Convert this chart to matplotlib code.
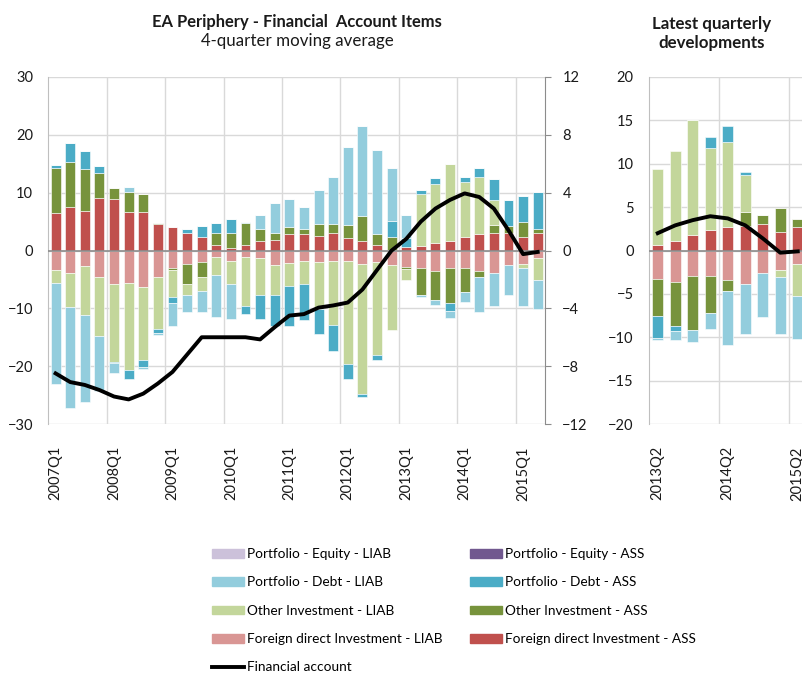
import numpy as np
import matplotlib
matplotlib.use("Agg")
import matplotlib.pyplot as plt
from matplotlib.patches import Patch
from matplotlib.lines import Line2D

plt.rcParams['font.family'] = ['Lato', 'DejaVu Sans']

# 4-quarter moving average, 2007Q1 - 2015Q2
quarters = [f"{y}Q{q}" for y in range(2007, 2016) for q in range(1, 5)][:34]

fdi_ass = [6.4, 7.5, 6.85, 9.15, 8.9, 6.6, 6.6, 4.5, 4.0, 3.1, 2.35, 1.0, 0.45, 1.0, 1.65, 1.9, 2.9,
           2.9, 2.55, 3.05, 2.2, 1.65, 1.0, 0.1, 0.55, 0.75, 1.3, 1.6, 2.35, 2.9, 3.05, 3.05, 2.35, 2.95]
fdi_liab = [-3.3, -3.9, -2.7, -4.65, -5.8, -5.6, -6.3, -4.65, -3.0, -2.25, -2.0, -1.1, -1.85, -1.1, -1.3, -2.5, -2.2,
            -1.85, -2.05, -1.85, -1.85, -2.25, -2.0, -2.55, -2.8, -3.0, -3.5, -3.0, -3.0, -3.5, -3.9, -2.5, -2.25, -1.3]
oi_ass = [7.9, 7.8, 7.25, 4.25, 1.9, 3.5, 3.1, 0.2, -0.3, -3.55, -2.6, 2.05, 2.6, 3.7, 2.1, 1.15, 1.1,
          0.85, 2.1, 1.6, 2.25, 4.25, 1.9, 2.25, -0.4, -4.7, -5.1, -6.15, -4.2, -1.1, 1.35, 1.15, 2.6, 0.75]
oi_liab = [-2.3, -5.9, -8.5, -10.1, -13.4, -15.1, -12.6, -8.9, -4.7, -1.9, -2.4, -3.05, -3.95, -8.5, -6.4, -5.2, -3.9,
           -4.0, -8.15, -11.05, -17.85, -22.55, -16.1, -11.25, -1.9, 8.95, 10.25, 13.4, 9.45, 9.8, 4.3, 0.0, -0.75, -3.85]
pd_ass = [0.55, 3.3, 3.1, 1.15, -0.3, -1.55, -1.2, -0.8, -1.15, 0.7, 1.95, 1.65, 2.35, -1.3, -4.15, -5.3, -6.9,
          -6.1, -4.3, -4.4, -2.5, -0.5, -0.85, 2.7, 1.6, 0.7, 0.9, -1.35, 0.9, 1.6, 3.6, 4.5, 4.5, 6.45]
pd_liab = [-17.5, -17.5, -15.0, -9.6, -1.7, 0.9, -0.45, -0.2, -3.85, -3.0, -3.7, -7.3, -6.05, 0.3, 2.35, 5.15, 4.9,
           3.8, 5.75, 8.05, 13.4, 15.7, 14.5, 9.25, 4.0, -0.3, -0.9, -1.1, -1.65, -6.1, -5.65, -5.15, -6.55, -4.9]
pe_ass = [0.0] * 34
pe_liab = [0.0] * 34
# financial account, right axis
fin_acc = [-8.5, -9.1, -9.3, -9.65, -10.1, -10.3, -9.9, -9.2, -8.4, -7.2, -6.0, -6.0, -6.0, -6.0, -6.15, -5.3, -4.5,
           -4.4, -3.95, -3.8, -3.6, -2.7, -1.35, 0.0, 0.8, 2.0, 2.9, 3.5, 3.95, 3.7, 2.9, 1.4, -0.25, -0.1]

# latest quarterly developments, 2013Q2 - 2015Q2
late_q = quarters[25:]
late_fdi_ass = [0.6, 1.1, 1.8, 2.35, 2.75, 2.8, 3.0, 2.15, 2.75]
late_fdi_liab = [-3.3, -3.6, -2.9, -2.9, -3.4, -3.9, -2.65, -2.25, -1.5]
late_oi_ass = [-4.3, -5.1, -6.3, -4.25, -1.3, 1.6, 1.1, 2.75, 0.85]
late_oi_liab = [8.8, 10.4, 13.3, 9.45, 9.8, 4.3, 0.0, -0.85, -3.75]
late_pd_ass = [-2.5, -0.6, 0.0, 1.25, 1.75, 0.4, 0.0, 0.0, 0.0]
late_pd_liab = [-0.2, -1.0, -1.4, -1.85, -6.2, -5.75, -5.0, -6.55, -4.9]
late_fin_acc = fin_acc[25:]

colors = {
    'pe_liab': '#ccc1da', 'pe_ass': '#71588f',
    'pd_liab': '#93cddd', 'pd_ass': '#4bacc6',
    'oi_liab': '#c3d69b', 'oi_ass': '#77933c',
    'fdi_liab': '#d99694', 'fdi_ass': '#c0504d',
}
grid_c = '#d9d9d9'
axis_c = '#8c8c8c'
txt_c = '#1a1a1a'
FS = 10.5


def stack(ax, series, width):
    n = len(series[0][0])
    x = np.arange(n)
    pos = np.zeros(n)
    neg = np.zeros(n)
    for vals, col in series:
        v = np.asarray(vals, float)
        base = np.where(v >= 0, pos, neg)
        ax.bar(x, v, width, bottom=base, color=col, edgecolor='white', linewidth=0.4, zorder=2)
        pos += np.clip(v, 0, None)
        neg += np.clip(v, None, 0)


def style(ax, n, lo, hi, step, labels):
    ax.set_xlim(-0.5, n - 0.5)
    ax.set_ylim(lo, hi)
    ax.set_yticks(np.arange(lo, hi + 1, step))
    ax.set_axisbelow(True)
    ax.yaxis.grid(True, color=grid_c, lw=1)
    for k in range(4, n, 4):
        ax.axvline(k - 0.5, color=grid_c, lw=1, zorder=0)
    ax.axhline(0, color=axis_c, lw=1.2, zorder=3)
    for s in ['top', 'bottom', 'right']:
        ax.spines[s].set_visible(False)
    ax.spines['left'].set_color('#bfbfbf')
    ax.set_xticks(range(0, n, 4))
    ax.set_xticklabels(labels[::4], rotation=90, fontsize=FS, color=txt_c)
    ax.tick_params(axis='x', length=0, pad=16)
    ax.tick_params(axis='y', length=0, pad=11, labelsize=FS, labelcolor=txt_c)


fig = plt.figure(figsize=(8.03, 6.73), dpi=100)
W, H = 803, 673

# left panel
ax = fig.add_axes([48.3 / W, 1 - 424 / H, 496.7 / W, 347 / H])
stack(ax, [(fdi_ass, colors['fdi_ass']), (fdi_liab, colors['fdi_liab']),
           (oi_ass, colors['oi_ass']), (oi_liab, colors['oi_liab']),
           (pd_ass, colors['pd_ass']), (pd_liab, colors['pd_liab']),
           (pe_ass, colors['pe_ass']), (pe_liab, colors['pe_liab'])], 0.68)
style(ax, len(quarters), -30, 30, 10, quarters)

axr = ax.twinx()
axr.plot(np.arange(len(fin_acc)), fin_acc, color='black', lw=2.8, solid_joinstyle='round', zorder=5)
axr.set_ylim(-12, 12)
axr.set_yticks(np.arange(-12, 13, 4))
for s in ['top', 'bottom', 'left']:
    axr.spines[s].set_visible(False)
axr.spines['right'].set_color(axis_c)
axr.tick_params(axis='y', direction='out', length=4.5, color=axis_c, pad=8, labelsize=FS, labelcolor=txt_c)

fig.text(297 / W, 1 - 22 / H, 'EA Periphery - Financial  Account Items', ha='center', va='center',
         fontsize=11.9, fontweight='bold', color=txt_c)
fig.text(297 / W, 1 - 41 / H, '4-quarter moving average', ha='center', va='center',
         fontsize=12.2, color=txt_c)

# right panel
ax2 = fig.add_axes([649 / W, 1 - 424 / H, 157.5 / W, 347 / H])
stack(ax2, [(late_fdi_ass, colors['fdi_ass']), (late_fdi_liab, colors['fdi_liab']),
            (late_oi_ass, colors['oi_ass']), (late_oi_liab, colors['oi_liab']),
            (late_pd_ass, colors['pd_ass']), (late_pd_liab, colors['pd_liab'])], 0.61)
style(ax2, len(late_q), -20, 20, 5, late_q)
ax2.plot(np.arange(len(late_fin_acc)), late_fin_acc, color='black', lw=2.8, solid_joinstyle='round', zorder=5)

fig.text(712 / W, 1 - 33.5 / H, 'Latest quarterly\ndevelopments', ha='center', va='center',
         fontsize=12.2, fontweight='bold', color=txt_c, linespacing=1.3)

# legend
names = [('pe_liab', 'Portfolio - Equity - LIAB'), ('pd_liab', 'Portfolio - Debt - LIAB'),
         ('oi_liab', 'Other Investment - LIAB'), ('fdi_liab', 'Foreign direct Investment - LIAB')]
names2 = [('pe_ass', 'Portfolio - Equity - ASS'), ('pd_ass', 'Portfolio - Debt - ASS'),
          ('oi_ass', 'Other Investment - ASS'), ('fdi_ass', 'Foreign direct Investment - ASS')]
handles = [Patch(color=colors[k], label=l) for k, l in names]
handles.append(Line2D([], [], color='black', lw=2.8, label='Financial account'))
handles += [Patch(color=colors[k], label=l) for k, l in names2]
fig.legend(handles=handles, ncol=2, loc='upper left', bbox_to_anchor=(212 / W, 1 - 548 / H),
           frameon=False, fontsize=9.8, handlelength=2.35, handleheight=0.6, handletextpad=0.2,
           columnspacing=2.05, labelspacing=1.2, borderpad=0, borderaxespad=0)

fig.savefig('out.png', dpi=100)
